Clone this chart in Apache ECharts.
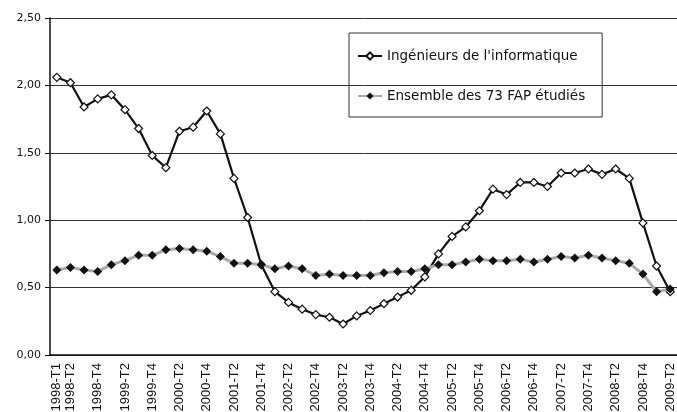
<!DOCTYPE html>
<html>
<head>
<meta charset="utf-8">
<script src="https://cdn.jsdelivr.net/npm/echarts@6/dist/echarts.min.js"></script>
<style>
  html, body { margin: 0; padding: 0; background: #fff; }
  #main { width: 677px; height: 412px; }
</style>
</head>
<body>
<div id="main"></div>
<script>
// trimestres
let quarters = [
  "1998-T1", "1998-T2", "1998-T3", "1998-T4",
  "1999-T1", "1999-T2", "1999-T3", "1999-T4",
  "2000-T1", "2000-T2", "2000-T3", "2000-T4",
  "2001-T1", "2001-T2", "2001-T3", "2001-T4",
  "2002-T1", "2002-T2", "2002-T3", "2002-T4",
  "2003-T1", "2003-T2", "2003-T3", "2003-T4",
  "2004-T1", "2004-T2", "2004-T3", "2004-T4",
  "2005-T1", "2005-T2", "2005-T3", "2005-T4",
  "2006-T1", "2006-T2", "2006-T3", "2006-T4",
  "2007-T1", "2007-T2", "2007-T3", "2007-T4",
  "2008-T1", "2008-T2", "2008-T3", "2008-T4",
  "2009-T1", "2009-T2"
];

let ingenieurs = [
  2.06, 2.02, 1.84, 1.90, 1.93, 1.82, 1.68, 1.48, 1.39, 1.66,
  1.69, 1.81, 1.64, 1.31, 1.02, 0.67, 0.47, 0.39, 0.34, 0.30,
  0.28, 0.23, 0.29, 0.33, 0.38, 0.43, 0.48, 0.58, 0.75, 0.88,
  0.95, 1.07, 1.23, 1.19, 1.28, 1.28, 1.25, 1.35, 1.35, 1.38,
  1.34, 1.38, 1.31, 0.98, 0.66, 0.47
];

let ensemble = [
  0.63, 0.65, 0.63, 0.62, 0.67, 0.70, 0.74, 0.74, 0.78, 0.79,
  0.78, 0.77, 0.73, 0.68, 0.68, 0.67, 0.64, 0.66, 0.64, 0.59,
  0.60, 0.59, 0.59, 0.59, 0.61, 0.62, 0.62, 0.64, 0.67, 0.67,
  0.69, 0.71, 0.70, 0.70, 0.71, 0.69, 0.71, 0.73, 0.72, 0.74,
  0.72, 0.70, 0.68, 0.60, 0.47, 0.49
];

let names = ["Ingénieurs de l'informatique", "Ensemble des 73 FAP étudiés"];

let myChart = echarts.init(document.getElementById("main"));

let option = {
  animation: false,
  backgroundColor: "#fff",
  grid: {
    left: 50,
    right: 0,
    top: 18,
    bottom: 57,
    outerBoundsMode: "none"
  },
  legend: {
    orient: "vertical",
    left: 349,
    top: 33,
    data: names,
    borderColor: "#333",
    borderWidth: 1,
    padding: [15, 17, 13, 8],
    itemGap: 24,
    itemWidth: 24,
    itemHeight: 9,
    textStyle: {
      fontFamily: "DejaVu Sans",
      fontSize: 13.5,
      lineHeight: 16,
      color: "#111"
    }
  },
  xAxis: {
    type: "category",
    data: quarters,
    boundaryGap: true,
    axisLine: { lineStyle: { color: "#111", width: 1.5 } },
    axisTick: {
      interval: 0,
      length: 4,
      lineStyle: { color: "#111" }
    },
    axisLabel: {
      rotate: 90,
      interval: function (index) {
        return index === 0 || index % 2 === 1;
      },
      fontFamily: "Liberation Sans",
      fontSize: 13,
      color: "#111",
      margin: 8
    },
    splitLine: { show: false }
  },
  yAxis: {
    type: "value",
    min: 0,
    max: 2.5,
    interval: 0.5,
    axisLine: { show: true, lineStyle: { color: "#111", width: 1.5 } },
    axisTick: { show: true, length: 5, lineStyle: { color: "#111" } },
    axisLabel: {
      formatter: function (v) {
        return v.toFixed(2).replace(".", ",");
      },
      fontFamily: "DejaVu Sans",
      fontSize: 11,
      color: "#111",
      margin: 9
    },
    splitLine: { lineStyle: { color: "#333", width: 1 } }
  },
  series: [
    {
      name: names[0],
      type: "line",
      data: ingenieurs,
      symbol: "diamond",
      symbolSize: 8,
      showAllSymbol: true,
      lineStyle: { color: "#111", width: 2.2 },
      itemStyle: { color: "#fff", borderColor: "#111", borderWidth: 1.2 },
      z: 2
    },
    {
      name: names[1],
      type: "line",
      data: ensemble,
      symbol: "diamond",
      symbolSize: 9,
      showAllSymbol: true,
      lineStyle: { color: "#aaa", width: 3 },
      itemStyle: { color: "#111", borderColor: "#111", borderWidth: 0 },
      z: 3
    }
  ]
};

myChart.setOption(option);
</script>
</body>
</html>
